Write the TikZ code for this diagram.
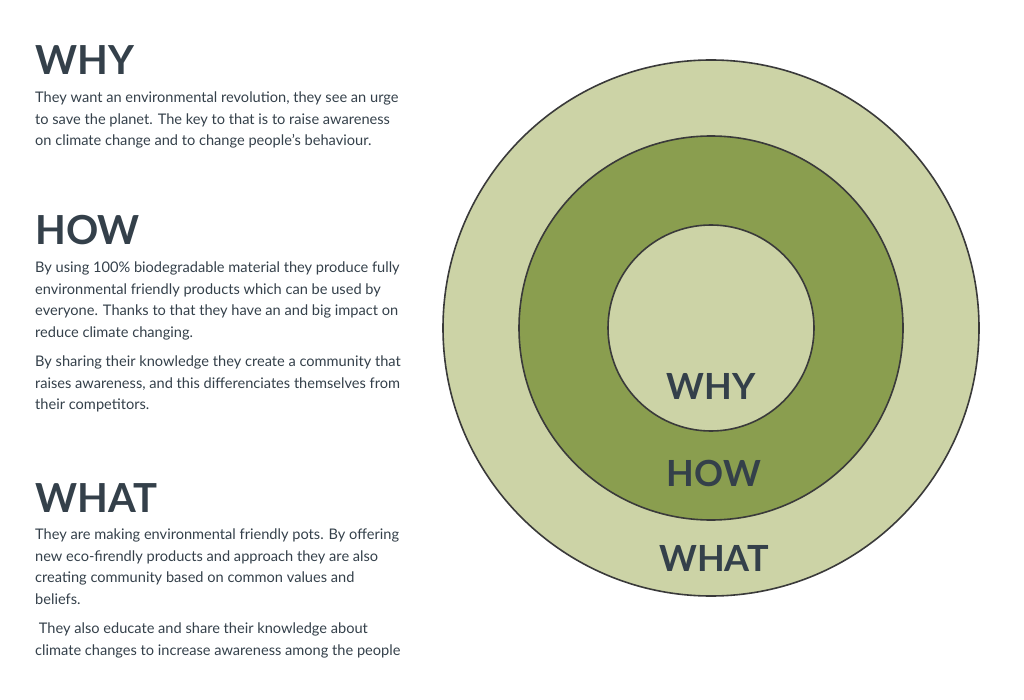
\documentclass[tikz,border=0pt]{standalone}
\usepackage{fontspec}
\setmainfont{Lato}
\definecolor{inktext}{HTML}{34404A}
\definecolor{ringpale}{HTML}{CCD3A6}
\definecolor{ringdark}{HTML}{8A9E4F}
\definecolor{ringline}{HTML}{3A3A3A}
\begin{document}
\begin{tikzpicture}[
        x=1pt, y=-1pt,
        ring/.style={draw=ringline, line width=1.6pt},
        heading/.style={anchor=base west, inner sep=0pt, text=inktext,
            font=\fontsize{40}{40}\selectfont\bfseries},
        para/.style={anchor=north west, inner sep=0pt, text=inktext, align=left,
            font=\fontsize{14.6}{21.5}\selectfont},
        ringlabel/.style={text=inktext, inner sep=0pt,
            font=\fontsize{36}{36}\selectfont\bfseries}
]
\useasboundingbox (0,0) rectangle (1024,700);
% circles
\coordinate (centre) at (711,328);
\filldraw[ring, fill=ringpale] (centre) circle (268);
\filldraw[ring, fill=ringdark] (centre) circle (192);
\filldraw[ring, fill=ringpale] (centre) circle (103);
\node[ringlabel] (why label) at (711,386) {WHY};
\node[ringlabel] (how label) at (714,473) {HOW};
\node[ringlabel] (what label) at (714,558) {WHAT};
% texts on the left
\node[heading] (why head) at (35,75) {WHY};
\node[para] (why text) at (35,92) {They want an environmental revolution, they see an urge\\
to save the planet. The key to that is to raise awareness\\
on climate change and to change people’s behaviour.};
\node[heading] (how head) at (35,245) {HOW};
\node[para] (how text) at (35,262) {By using 100\% biodegradable material they produce fully\\
environmental friendly products which can be used by\\
everyone. Thanks to that they have an and big impact on\\
reduce climate changing.};
\node[para] (how text2) at (35,356) {By sharing their knowledge they create a community that\\
raises awareness, and this differenciates themselves from\\
their competitors.};
\node[heading] (what head) at (35,512) {WHAT};
\node[para] (what text) at (35,529) {They are making environmental friendly pots. By offering\\
new eco-firendly products and approach they are also\\
creating community based on common values and\\
beliefs.};
\node[para] (what text2) at (35,623) {\ They also educate and share their knowledge about\\
climate changes to increase awareness among the people};
\end{tikzpicture}
\end{document}
